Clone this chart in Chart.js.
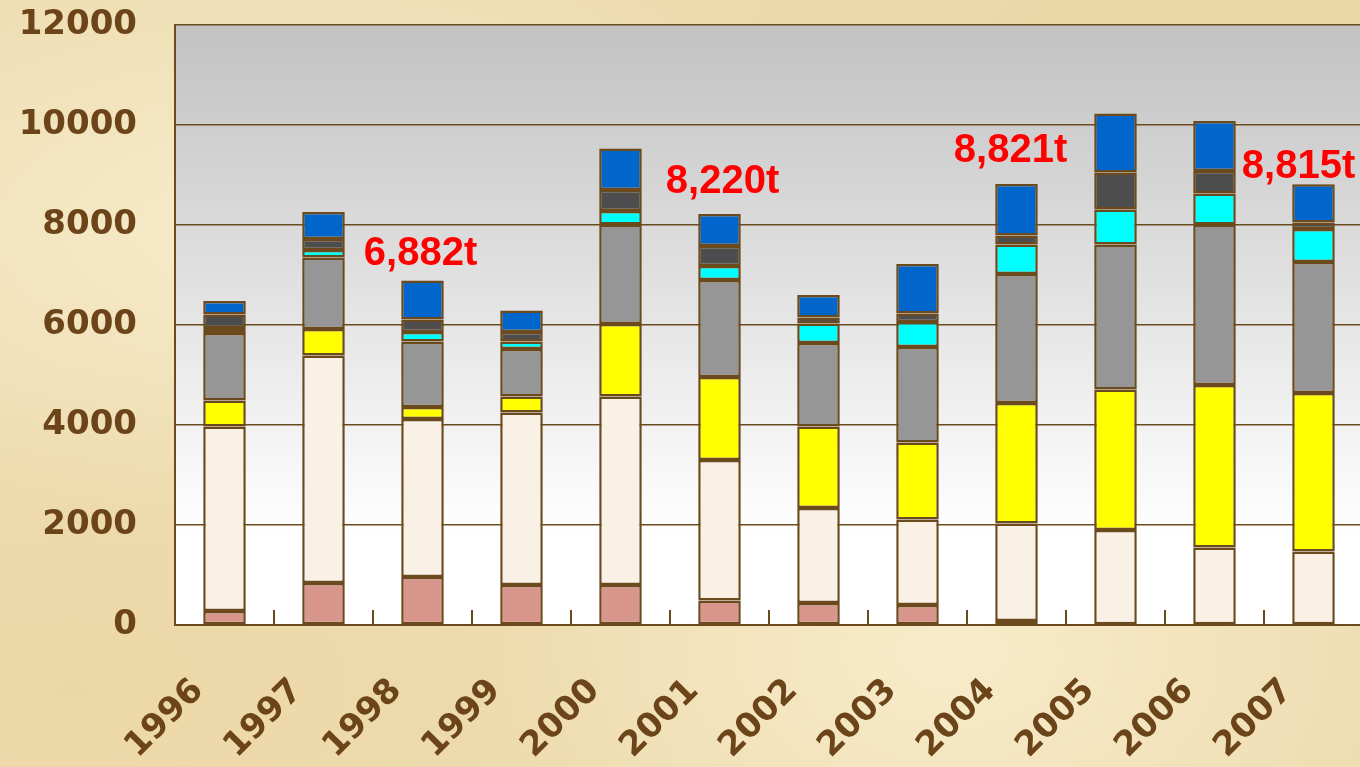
<!DOCTYPE html>
<html>
<head>
<meta charset="utf-8">
<script src="https://cdn.jsdelivr.net/npm/chart.js@4"></script>
<style>
  html, body { margin: 0; padding: 0; overflow: hidden; }
  body {
    width: 1360px; height: 767px;
    background-color: #eedcb0;
    background-image:
      radial-gradient(ellipse at 20% 30%, rgba(255,248,225,0.55), rgba(255,248,225,0) 40%),
      radial-gradient(ellipse at 70% 85%, rgba(255,246,220,0.6), rgba(255,246,220,0) 35%),
      radial-gradient(ellipse at 90% 10%, rgba(230,205,150,0.5), rgba(230,205,150,0) 40%),
      radial-gradient(ellipse at 5% 90%, rgba(235,212,160,0.6), rgba(235,212,160,0) 35%);
  }
  #wrap { position: relative; width: 1363px; height: 767px; }
</style>
</head>
<body>
<div id="wrap"><canvas id="myChart"></canvas></div>
<script>
// categories
const years = ['1996','1997','1998','1999','2000','2001','2002','2003','2004','2005','2006','2007'];

// stacked segments, bottom to top (t)
const pinkSeg   = [280, 840, 960, 800, 800, 490, 440, 400, 80, 0, 0, 0];
const creamSeg  = [3690, 4550, 3160, 3450, 3770, 2810, 1900, 1710, 1950, 1900, 1550, 1470];
const yellowSeg = [520, 530, 240, 320, 1450, 1660, 1630, 1540, 2410, 2810, 3250, 3170];
const graySeg   = [1350, 1430, 1310, 950, 1990, 1940, 1670, 1910, 2580, 2900, 3210, 2620];
const cyanSeg   = [100, 150, 190, 150, 270, 280, 390, 500, 590, 700, 620, 660];
const darkSeg   = [270, 220, 250, 190, 420, 400, 120, 170, 180, 740, 450, 130];
const blueSeg   = [270, 540, 780, 430, 830, 640, 450, 990, 1030, 1180, 1000, 765];

// red callouts over some bars
const calloutYears = ['1998', '2001', '2004', '2007'];
const calloutText  = ['6,882t', '8,220t', '8,821t', '8,815t'];
// nudge of each callout from its bar top (px)
const calloutDx  = [-2, 3, -6, -15];
const calloutGap = [16, 21, 22, 6];

const brown = '#6b4a1e';

function seg(label, values, color) {
  return {
    label: label,
    data: values,
    backgroundColor: color,
    borderColor: brown,
    borderWidth: 2.5,
    borderSkipped: false,
    barPercentage: 0.43,
    categoryPercentage: 1.0
  };
}

// gradient behind the plot
const plotBg = {
  id: 'plotBg',
  beforeDraw(chart) {
    const a = chart.chartArea;
    const ctx = chart.ctx;
    const g = ctx.createLinearGradient(0, a.top, 0, a.bottom);
    g.addColorStop(0, '#c2c2c2');
    g.addColorStop(0.85, '#ffffff');
    g.addColorStop(1, '#ffffff');
    ctx.save();
    ctx.fillStyle = g;
    ctx.fillRect(a.left, a.top, a.right - a.left, a.bottom - a.top);
    ctx.restore();
  }
};

// small inner ticks between categories + callout labels
const extras = {
  id: 'extras',
  afterDraw(chart) {
    const ctx = chart.ctx;
    const xs = chart.scales.x;
    const ys = chart.scales.y;
    const a = chart.chartArea;
    const step = xs.getPixelForTick(1) - xs.getPixelForTick(0);
    ctx.save();
    ctx.strokeStyle = brown;
    ctx.lineWidth = 2;
    for (let i = 0; i < years.length; i++) {
      const x = xs.getPixelForTick(i) + step / 2;
      ctx.beginPath();
      ctx.moveTo(x, a.bottom);
      ctx.lineTo(x, a.bottom - 15);
      ctx.stroke();
    }
    ctx.fillStyle = '#ff0000';
    ctx.font = 'bold 40px "Liberation Sans", Arial, sans-serif';
    ctx.textAlign = 'center';
    ctx.textBaseline = 'alphabetic';
    calloutYears.forEach(function (yr, k) {
      const i = years.indexOf(yr);
      let total = 0;
      chart.data.datasets.forEach(function (d) { total += d.data[i]; });
      const x = xs.getPixelForValue(i) + calloutDx[k];
      const y = ys.getPixelForValue(total) - calloutGap[k];
      ctx.fillText(calloutText[k], x, y);
    });
    ctx.restore();
  }
};

const tickFont = { family: '"DejaVu Sans", Verdana, sans-serif', size: 34, weight: 'bold' };

const myChart = new Chart(document.getElementById('myChart'), {
  type: 'bar',
  data: {
    labels: years,
    datasets: [
      seg('a', pinkSeg, '#d9968c'),
      seg('b', creamSeg, '#faf1e6'),
      seg('c', yellowSeg, '#ffff00'),
      seg('d', graySeg, '#969696'),
      seg('e', cyanSeg, '#00ffff'),
      seg('f', darkSeg, '#4d4d4d'),
      seg('g', blueSeg, '#0066cc')
    ]
  },
  options: {
    responsive: true,
    maintainAspectRatio: false,
    animation: false,
    layout: { padding: { top: 25, right: 0, left: 0, bottom: 0 } },
    plugins: { legend: { display: false }, tooltip: { enabled: false } },
    scales: {
      x: {
        stacked: true,
        grid: { display: false },
        border: { color: brown, width: 2 },
        ticks: { color: '#6b4419', font: tickFont, maxRotation: 45, minRotation: 45, padding: 38, labelOffset: -26 },
        afterFit(scale) {
          scale.height = 142;
          scale.paddingLeft = 0;
          scale.paddingRight = 0;
        }
      },
      y: {
        stacked: true,
        min: 0,
        max: 12000,
        grid: { color: brown, lineWidth: 1.5, drawTicks: false },
        border: { color: brown, width: 2 },
        ticks: {
          stepSize: 2000, color: '#6b4419', font: tickFont, padding: 38,
          callback: function (v) { return String(v); }
        },
        afterFit(scale) {
          scale.width = 175;
          scale.paddingTop = 0;
          scale.paddingBottom = 0;
        }
      }
    }
  },
  plugins: [plotBg, extras]
});
</script>
</body>
</html>
